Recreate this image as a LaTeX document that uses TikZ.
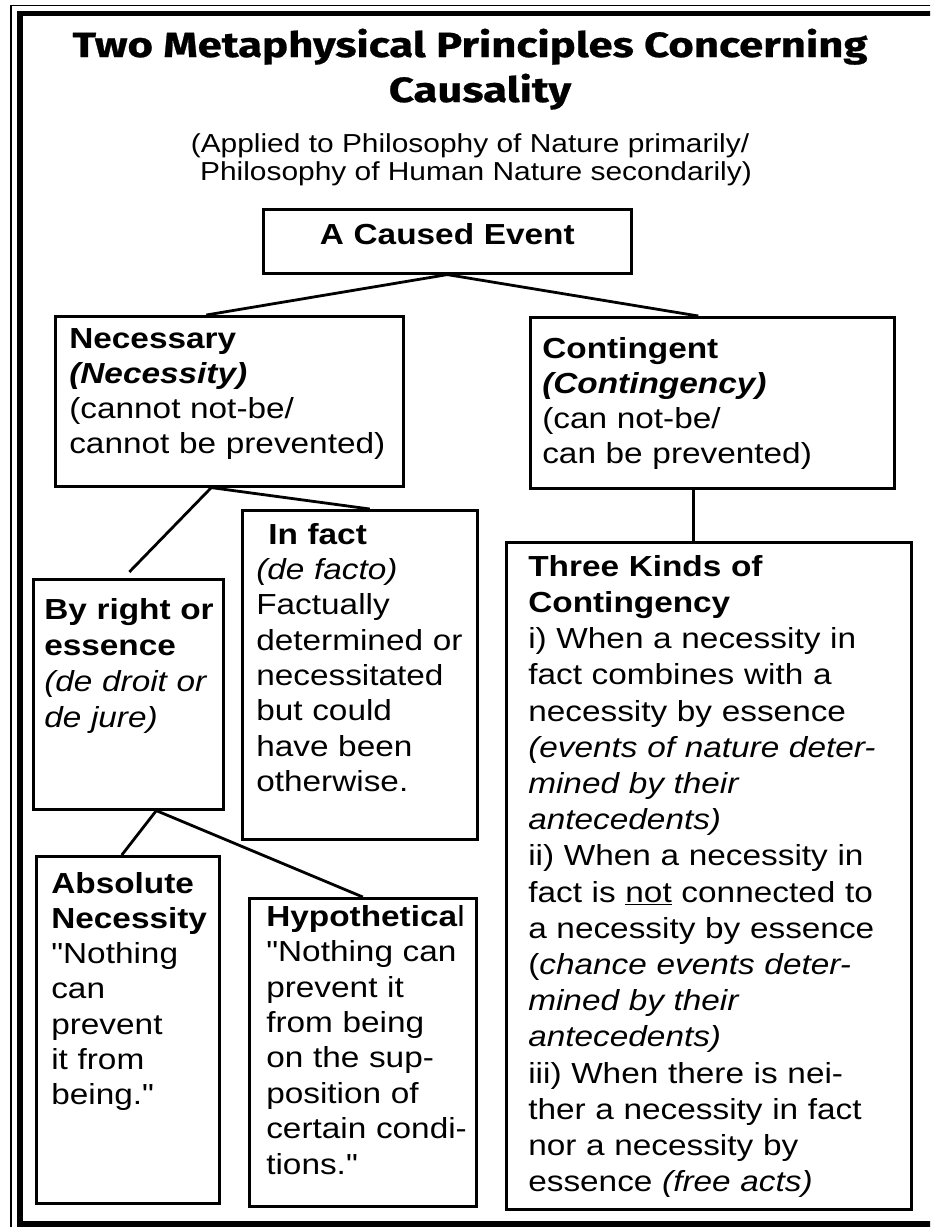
\documentclass[tikz,border=0pt]{standalone}
\usepackage{fontspec}
\usepackage{graphicx}
\setmainfont{Liberation Sans}[FakeStretch=1.15, Ligatures=TeXOff]
\newfontfamily\titlefont{Fira Sans}[FakeBold=0.6]
\newsavebox\ttlbox
\newsavebox\ttlboxb
\newcommand\bxtext[2]{\raggedright\leftskip=#1\relax\parindent=0pt #2\par}
\begin{document}
\sbox\ttlbox{\titlefont\bfseries\fontsize{35}{40}\selectfont Two Metaphysical Principles Concerning}%
\sbox\ttlboxb{\titlefont\bfseries\fontsize{35}{40}\selectfont Causality}%
\pgfmathsetmacro\tsx{795/\the\wd\ttlbox}%
\begin{tikzpicture}[x=1pt,y=-1pt,
  bx/.style={draw, line width=2.6pt, inner sep=0pt, anchor=north west},
  conn/.style={line width=2.8pt},
  frame/.style={line width=#1},
  sub/.style={anchor=base, font=\fontsize{26}{28}\selectfont}]
\useasboundingbox (0,0) rectangle (930,1227);
% outer frame
\begin{scope}
\clip (0,0) rectangle (930,1227);
\draw[frame=1.6pt] (11,1260) -- (11,5.5) -- (980,5.5);
\draw[frame=5.5pt] (980,13.5) -- (20,13.5) -- (20,1224) -- (980,1224);
\end{scope}
% title
\node[anchor=base] (t1) at (470,57) {\scalebox{\tsx}[1]{\usebox\ttlbox}};
\node[anchor=base] (t2) at (480,102) {\scalebox{\tsx}[1]{\usebox\ttlboxb}};
\node[sub] (s1) at (470,152) {(Applied to Philosophy of Nature primarily/};
\node[sub] (s2) at (476,180.5) {Philosophy of Human Nature secondarily)};
% boxes
\node[bx, font=\fontsize{29}{35}\selectfont\bfseries, align=center, text width=368pt, text height=35pt, text depth=29pt] (cause) at (262,208) {A Caused Event};
\node[bx, font=\fontsize{29}{35}\selectfont, text width=348pt, text height=32pt, text depth=138pt] (nec) at (54,315)
  {\bxtext{14pt}{\textbf{Necessary}\\\textbf{\textit{(Necessity)}}\\(cannot not-be/\\cannot be prevented)}};
\node[bx, font=\fontsize{29}{35}\selectfont, text width=364pt, text height=41pt, text depth=130pt] (cont) at (529,316)
  {\bxtext{12pt}{\textbf{Contingent}\\\textbf{\textit{(Contingency)}}\\(can not-be/\\can be prevented)}};
\node[bx, font=\fontsize{29}{35.3}\selectfont, text width=235pt, text height=34pt, text depth=295pt] (infact) at (241,509)
  {\bxtext{14pt}{\hspace*{12pt}\textbf{In fact}\\\textit{(de facto)}\\Factually\\determined or\\necessitated\\but could\\have been\\otherwise.}};
\node[bx, font=\fontsize{29}{36}\selectfont, text width=190pt, text height=40pt, text depth=190pt] (byright) at (32,578)
  {\bxtext{11pt}{\textbf{By right or}\\\textbf{essence}\\\textit{(de droit or}\\\textit{de jure)}}};
\node[bx, font=\fontsize{29}{36.2}\selectfont, text width=405pt, text height=34pt, text depth=633pt] (three) at (505,541)
  {\bxtext{22pt}{\textbf{Three Kinds of}\\\textbf{Contingency}\\i) When a necessity in\\fact combines with a\\necessity by essence\\\textit{(events of nature deter-}\\\textit{mined by their}\\\textit{antecedents)}\\ii) When a necessity in\\fact is \underline{not} connected to\\a necessity by essence\\(\textit{chance events deter-}\\\textit{mined by their}\\\textit{antecedents)}\\iii) When there is nei-\\ther a necessity in fact\\nor a necessity by\\essence \textit{(free acts)}}};
\node[bx, font=\fontsize{29}{35.2}\selectfont, text width=183pt, text height=37pt, text depth=310pt] (abs) at (35,855)
  {\bxtext{15pt}{\textbf{Absolute}\\\textbf{Necessity}\\"Nothing\\can\\prevent\\it from\\being."}};
\node[bx, font=\fontsize{29}{35.4}\selectfont, text width=227pt, text height=28pt, text depth=280pt] (hyp) at (248,897)
  {\bxtext{17pt}{\textbf{Hypothetica}l\\"Nothing can\\prevent it\\from being\\on the sup-\\position of\\certain condi-\\tions."}};
% connectors
\draw[conn] (cause.south) -- ([xshift=-23pt]nec.north);
\draw[conn] (cause.south) -- ([xshift=-14pt]cont.north);
\draw[conn] ([xshift=-18pt]nec.south) -- ([xshift=1pt,yshift=6pt]byright.north);
\draw[conn] ([xshift=-18pt]nec.south) -- ([xshift=10pt]infact.north);
\draw[conn] ([xshift=-19pt]cont.south) -- ([xshift=-19pt]cont.south |- three.north);
\draw[conn] ([xshift=28pt]byright.south) -- ([xshift=-6pt]abs.north);
\draw[conn] ([xshift=28pt]byright.south) -- (hyp.north);
\end{tikzpicture}
\end{document}
